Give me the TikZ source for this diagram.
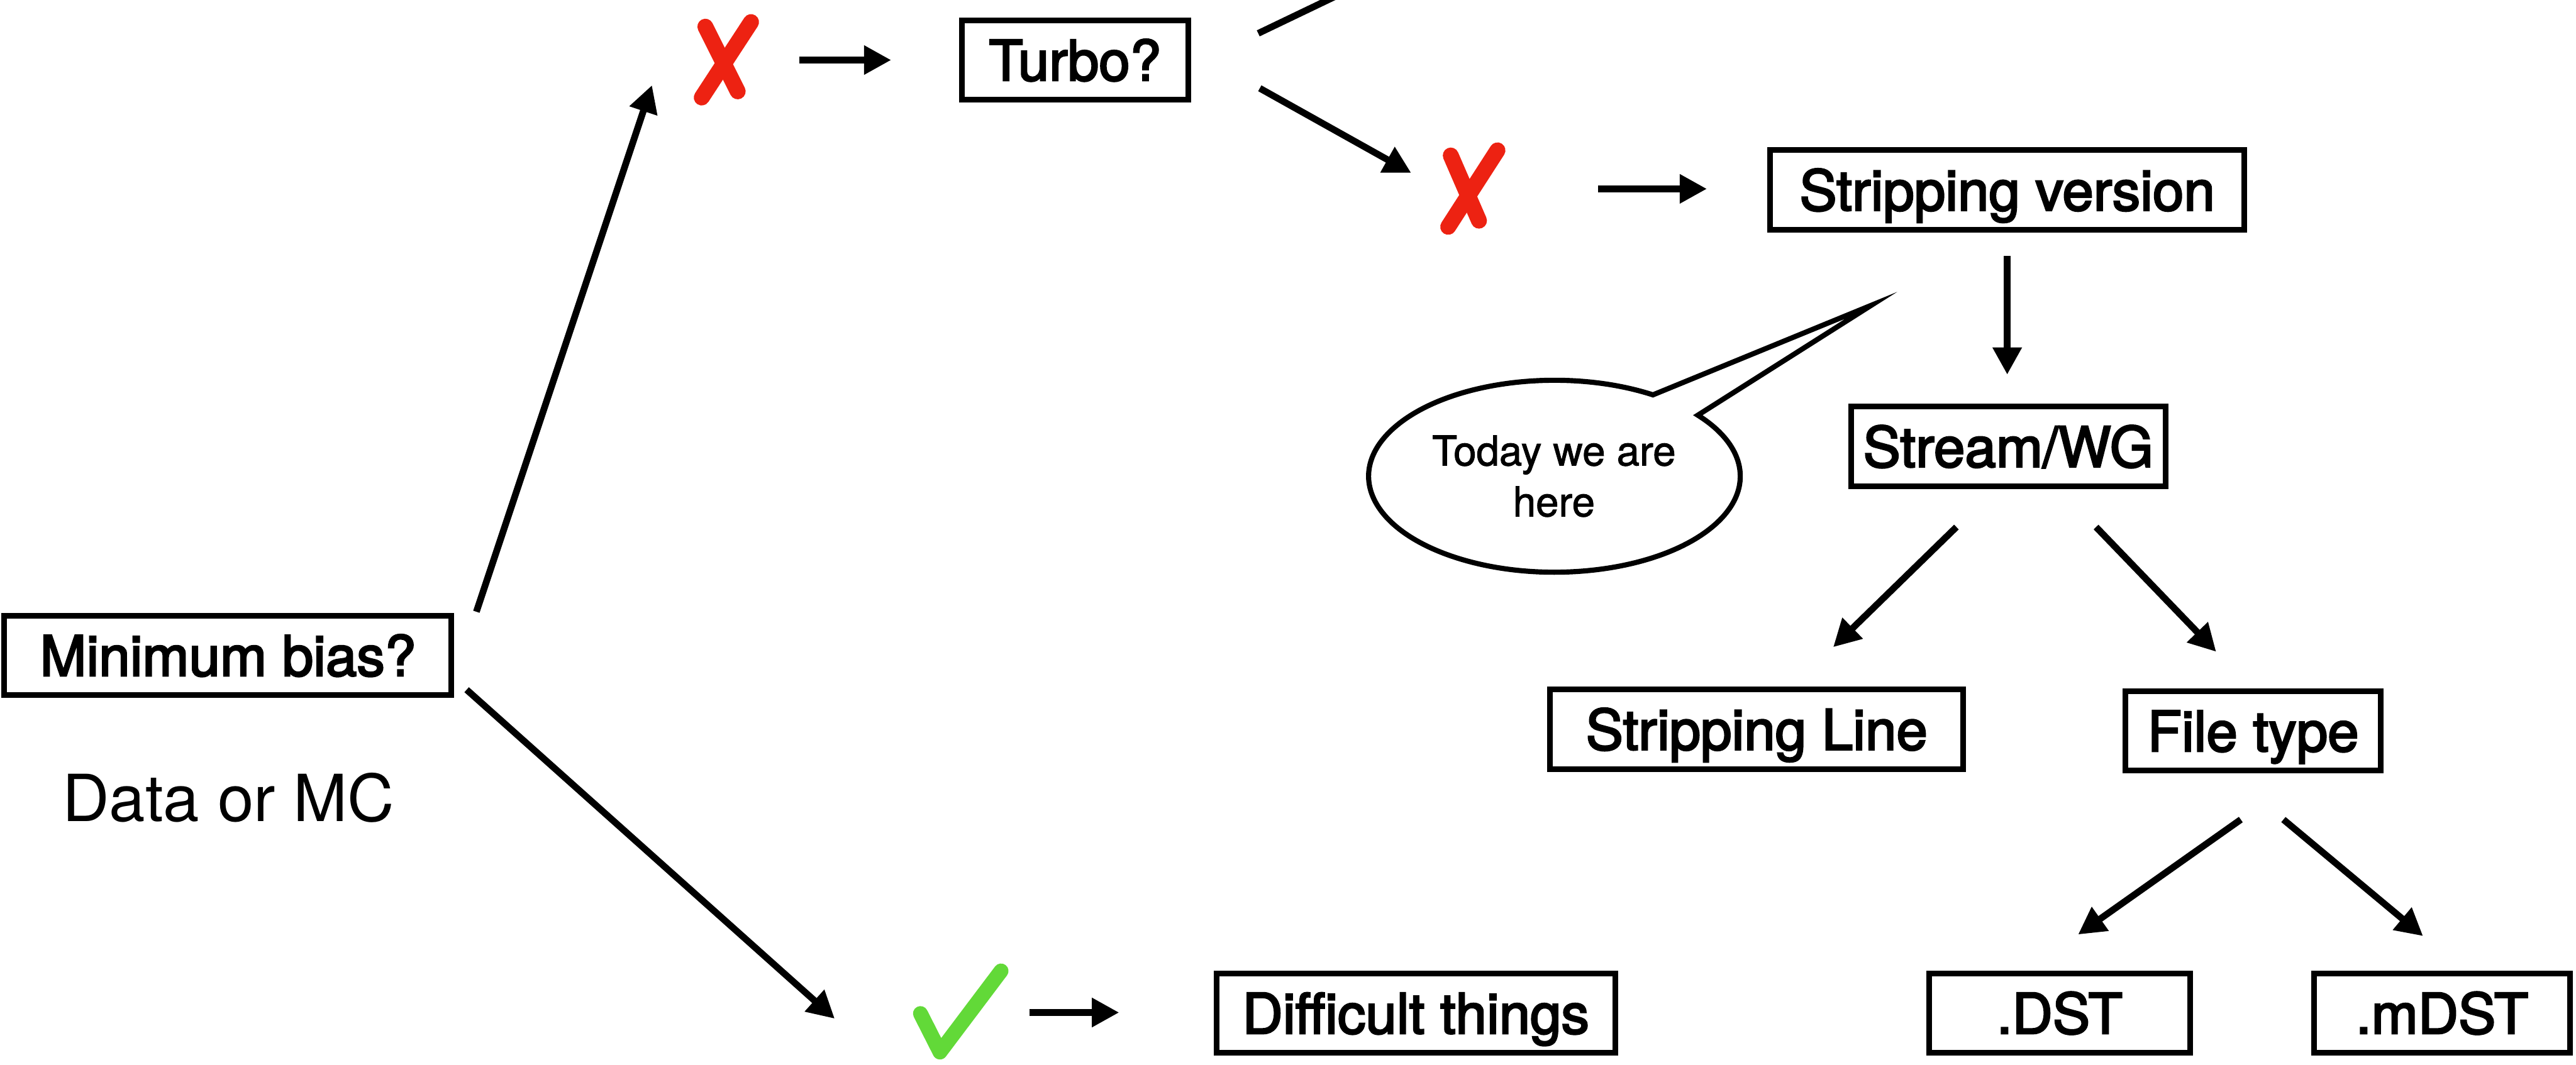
\documentclass[tikz,border=0pt]{standalone}
\usepackage{fontspec}
\setmainfont{TeX Gyre Heros}
\newfontfamily\medfont{TeX Gyre Heros}[FakeBold=3]
\newfontfamily\smallmedfont{TeX Gyre Heros}[FakeBold=1.5]
\usetikzlibrary{arrows.meta}
\definecolor{xred}{RGB}{237,34,18}
\definecolor{ckgreen}{RGB}{98,217,56}
\begin{document}
\begin{tikzpicture}[
  box/.style={draw=black, line width=0.11cm, inner sep=0pt, minimum height=1.55cm,
              text height=1.0cm, text depth=0.2cm, font=\medfont\fontsize{31}{36}\selectfont},
  conn/.style={line width=0.13cm, -{Triangle[length=0.53cm,width=0.54cm]}},
  plainconn/.style={line width=0.13cm},
  crossstroke/.style={draw=xred, line width=0.31cm, line cap=round},
  checkstroke/.style={draw=ckgreen, line width=0.29cm, line cap=round, line join=round},
  bubble/.style={draw=black, line width=0.10cm, line join=miter, miter limit=20}
]
\useasboundingbox (0,0) rectangle (50.18,-20.75);

% boxes
\node[box, minimum width=8.71cm] (minbias)   at (4.44,-12.77) {Minimum bias?};
\node[box, minimum width=4.41cm] (turbo)     at (20.94,-1.17) {Turbo?};
\node[box, minimum width=9.24cm] (stripver)  at (39.10,-3.70) {Stripping version};
\node[box, minimum width=6.13cm] (stream)    at (39.12,-8.70) {Stream/WG};
\node[box, minimum width=8.05cm] (stripline) at (34.22,-14.21) {Stripping Line};
\node[box, minimum width=4.98cm] (filetype)  at (43.89,-14.24) {File type};
\node[box, minimum width=5.09cm] (dst)       at (40.12,-19.74) {.DST};
\node[box, minimum width=4.99cm] (mdst)      at (47.57,-19.74) {.mDST};
\node[box, minimum width=7.77cm] (difficult) at (27.58,-19.74) {Difficult things};

% plain label
\node[anchor=base, inner sep=0pt, font=\fontsize{36}{42}\selectfont] (datamc) at (4.45,-16.00) {Data or MC};

% red crosses
\coordinate (x1) at (14.15,-1.17);
\draw[crossstroke] (13.74,-0.52) -- (14.37,-1.78);
\draw[crossstroke] (14.63,-0.43) -- (13.67,-1.90);
\coordinate (x2) at (28.60,-3.71);
\draw[crossstroke] (28.26,-3.03) -- (28.81,-4.30);
\draw[crossstroke] (29.17,-2.93) -- (28.21,-4.42);

% green check
\coordinate (ck) at (18.70,-19.73);
\draw[checkstroke] (17.93,-19.75) -- (18.31,-20.50) -- (19.50,-18.92);

% speech bubble
\coordinate (bc) at (30.28,-9.28);
\coordinate (btip) at (36.45,-5.95);
\draw[bubble] (bc) ++(58:3.62cm and 1.87cm)
   arc[start angle=58, end angle=399.5, x radius=3.62cm, y radius=1.87cm]
   -- (btip) -- cycle;
\node[align=center, inner sep=0pt, font=\smallmedfont\fontsize{22.8}{28.2}\selectfont] (bubtext) at (30.27,-9.28) {Today we are\\here};

% connector end points
\coordinate (a1s) at (9.28,-11.92);   \coordinate (a1e) at (12.70,-1.66);
\coordinate (a2s) at (15.57,-1.17);   \coordinate (a2e) at (17.36,-1.17);
\coordinate (a3s) at (24.51,-0.65);   \coordinate (a3e) at (26.49,0.30);
\coordinate (a4s) at (24.54,-1.72);   \coordinate (a4e) at (27.49,-3.37);
\coordinate (a5s) at (31.13,-3.68);   \coordinate (a5e) at (33.25,-3.68);
\coordinate (a6s) at (39.10,-4.99);   \coordinate (a6e) at (39.10,-7.30);
\coordinate (a7s) at (38.11,-10.27);  \coordinate (a7e) at (35.71,-12.61);
\coordinate (a8s) at (40.83,-10.27);  \coordinate (a8e) at (43.17,-12.70);
\coordinate (a9s) at (43.65,-15.97);  \coordinate (a9e) at (40.48,-18.21);
\coordinate (a10s) at (44.48,-15.97); \coordinate (a10e) at (47.20,-18.24);
\coordinate (a11s) at (9.09,-13.44);  \coordinate (a11e) at (16.26,-19.85);
\coordinate (a12s) at (20.05,-19.73); \coordinate (a12e) at (21.80,-19.73);

\draw[conn] (a1s) -- (a1e);
\draw[conn] (a2s) -- (a2e);
\draw[plainconn] (a3s) -- (a3e);
\draw[conn] (a4s) -- (a4e);
\draw[conn] (a5s) -- (a5e);
\draw[conn] (a6s) -- (a6e);
\draw[conn] (a7s) -- (a7e);
\draw[conn] (a8s) -- (a8e);
\draw[conn] (a9s) -- (a9e);
\draw[conn] (a10s) -- (a10e);
\draw[conn] (a11s) -- (a11e);
\draw[conn] (a12s) -- (a12e);
\end{tikzpicture}
\end{document}
